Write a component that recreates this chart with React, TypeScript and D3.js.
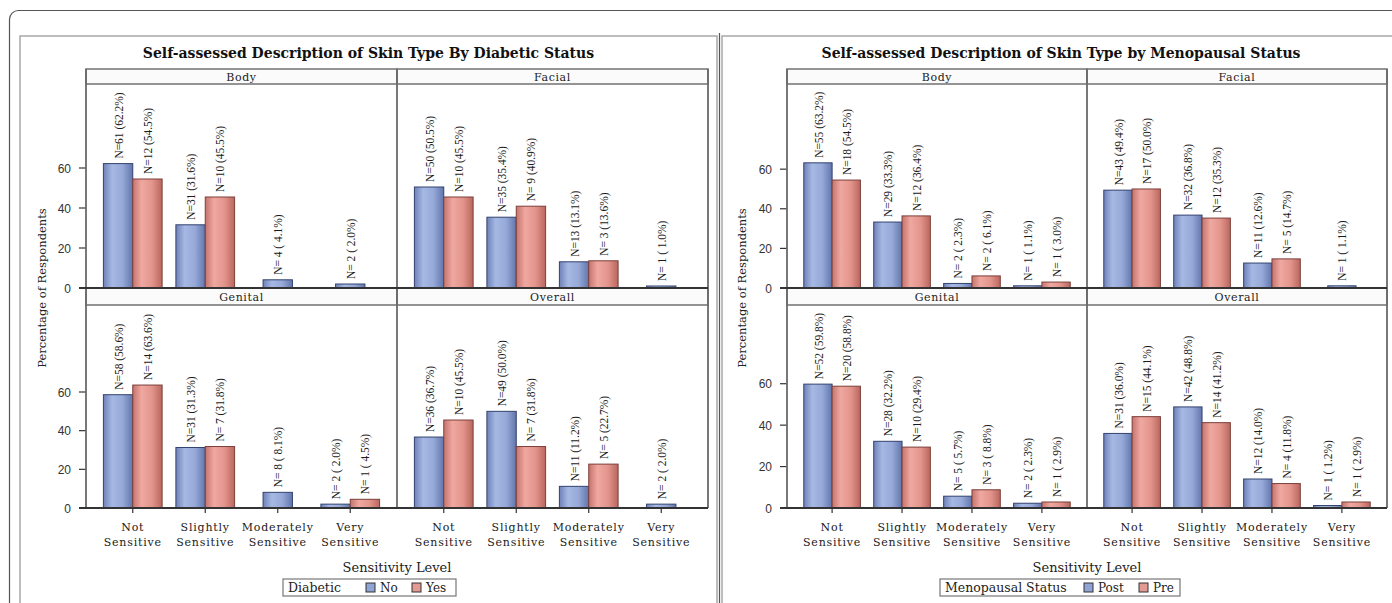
import React from 'react';
import * as d3 from 'd3';

// ---------- DATA ----------
const categories = ['Not Sensitive', 'Slightly Sensitive', 'Moderately Sensitive', 'Very Sensitive'];
const panelNames = ['Body', 'Facial', 'Genital', 'Overall'];
const yTicks = [0, 20, 40, 60];

// Diabetic status chart
const diabeticGroups = ['No', 'Yes'];
const diabBodyNoN = [61, 31, 4, 2];
const diabBodyNoPct = [62.2, 31.6, 4.1, 2.0];
const diabBodyYesN = [12, 10, null, null];
const diabBodyYesPct = [54.5, 45.5, null, null];
const diabFacialNoN = [50, 35, 13, 1];
const diabFacialNoPct = [50.5, 35.4, 13.1, 1.0];
const diabFacialYesN = [10, 9, 3, null];
const diabFacialYesPct = [45.5, 40.9, 13.6, null];
const diabGenitalNoN = [58, 31, 8, 2];
const diabGenitalNoPct = [58.6, 31.3, 8.1, 2.0];
const diabGenitalYesN = [14, 7, null, 1];
const diabGenitalYesPct = [63.6, 31.8, null, 4.5];
const diabOverallNoN = [36, 49, 11, 2];
const diabOverallNoPct = [36.7, 50.0, 11.2, 2.0];
const diabOverallYesN = [10, 7, 5, null];
const diabOverallYesPct = [45.5, 31.8, 22.7, null];

// Menopausal status chart
const menoGroups = ['Post', 'Pre'];
const menoBodyPostN = [55, 29, 2, 1];
const menoBodyPostPct = [63.2, 33.3, 2.3, 1.1];
const menoBodyPreN = [18, 12, 2, 1];
const menoBodyPrePct = [54.5, 36.4, 6.1, 3.0];
const menoFacialPostN = [43, 32, 11, 1];
const menoFacialPostPct = [49.4, 36.8, 12.6, 1.1];
const menoFacialPreN = [17, 12, 5, null];
const menoFacialPrePct = [50.0, 35.3, 14.7, null];
const menoGenitalPostN = [52, 28, 5, 2];
const menoGenitalPostPct = [59.8, 32.2, 5.7, 2.3];
const menoGenitalPreN = [20, 10, 3, 1];
const menoGenitalPrePct = [58.8, 29.4, 8.8, 2.9];
const menoOverallPostN = [31, 42, 12, 1];
const menoOverallPostPct = [36.0, 48.8, 14.0, 1.2];
const menoOverallPreN = [15, 14, 4, 1];
const menoOverallPrePct = [44.1, 41.2, 11.8, 2.9];

type Series = { n: (number | null)[]; pct: (number | null)[] };

const diabPanels: Series[][] = [
  [{ n: diabBodyNoN, pct: diabBodyNoPct }, { n: diabBodyYesN, pct: diabBodyYesPct }],
  [{ n: diabFacialNoN, pct: diabFacialNoPct }, { n: diabFacialYesN, pct: diabFacialYesPct }],
  [{ n: diabGenitalNoN, pct: diabGenitalNoPct }, { n: diabGenitalYesN, pct: diabGenitalYesPct }],
  [{ n: diabOverallNoN, pct: diabOverallNoPct }, { n: diabOverallYesN, pct: diabOverallYesPct }],
];
const menoPanels: Series[][] = [
  [{ n: menoBodyPostN, pct: menoBodyPostPct }, { n: menoBodyPreN, pct: menoBodyPrePct }],
  [{ n: menoFacialPostN, pct: menoFacialPostPct }, { n: menoFacialPreN, pct: menoFacialPrePct }],
  [{ n: menoGenitalPostN, pct: menoGenitalPostPct }, { n: menoGenitalPreN, pct: menoGenitalPrePct }],
  [{ n: menoOverallPostN, pct: menoOverallPostPct }, { n: menoOverallPreN, pct: menoOverallPrePct }],
];

// ---------- STYLE ----------
const SERIF = '"DejaVu Serif", serif';
const TSERIF = '"Liberation Serif", serif';
const SANS = '"Liberation Sans", Arial, sans-serif';
const barStroke = ['#33426e', '#7c3f3a'];
const legendFill = ['#8fa3d4', '#e39a92'];

const fmt = (n: number, p: number) =>
  `N=${String(n).padStart(2, ' ')} (${p.toFixed(1).padStart(4, ' ')}%)`;

type ChartProps = {
  id: string;
  title: string;
  boxLeft: number;
  boxRight: number;
  panelLeft: number;
  panelW: number;
  yMax: [number, number];
  yLabelX: number;
  groups: string[];
  data: Series[][];
  legendTitle: string;
  legendBox: [number, number];
  legendItems: number[];
};

const rowsY = [
  { hTop: 69, hBot: 84, zero: 288 },
  { hTop: 288, hBot: 305, zero: 508 },
];

function Chart(props: ChartProps) {
  const { id, title, boxLeft, boxRight, panelLeft, panelW, yMax, yLabelX, groups, data } = props;
  const cx = (boxLeft + boxRight) / 2;
  const els: React.ReactNode[] = [];

  data.forEach((series, p) => {
    const col = p % 2;
    const row = Math.floor(p / 2);
    const r = rowsY[row];
    const x0 = panelLeft + col * panelW;
    const x = d3.scaleBand<string>().domain(categories).range([x0, x0 + panelW]).paddingInner(0.19).paddingOuter(0.24);
    const y = d3.scaleLinear().domain([0, yMax[row]]).range([r.zero, r.hBot]);
    const bw = x.bandwidth() / 2;

    els.push(
      <g key={`h${p}`}>
        <rect x={x0} y={r.hTop} width={panelW} height={r.hBot - r.hTop} fill="#fbfbfb" stroke="#7a7a7a" strokeWidth={1.6} />
        <text x={x0 + panelW / 2} y={r.hTop + (r.hBot - r.hTop) / 2 + 4} textAnchor="middle" fontFamily={SERIF} fontSize={11} letterSpacing={0.6} fill="#222">
          {panelNames[p]}
        </text>
      </g>
    );

    categories.forEach((c, i) => {
      const present = groups.map((_, g) => g).filter((g) => series[g].pct[i] != null);
      present.forEach((g, k) => {
        const v = series[g].pct[i] as number;
        const n = series[g].n[i] as number;
        const bx = present.length === 1 ? (x(c) as number) + x.bandwidth() / 2 - bw / 2 : (x(c) as number) + k * bw;
        const top = y(v);
        els.push(
          <g key={`b${p}-${i}-${g}`}>
            <rect x={bx} y={top} width={bw} height={r.zero - top} fill={`url(#${id}g${g})`} stroke={barStroke[g]} strokeWidth={1} />
            <text
              transform={`translate(${bx + bw / 2},${top - 5}) rotate(-90) scale(0.88,1)`}
              dy="0.35em"
              fontFamily={TSERIF}
              fontSize={13}
              fill="#1a1a1a"
              style={{ whiteSpace: 'pre' }}
            >
              {fmt(n, v)}
            </text>
          </g>
        );
      });
    });

    if (col === 0) {
      yTicks.forEach((t) => {
        els.push(
          <g key={`yt${p}-${t}`}>
            <line x1={x0 - 7} x2={x0} y1={y(t)} y2={y(t)} stroke="#333" strokeWidth={1.2} />
            <text x={x0 - 15} y={y(t) + 4.5} textAnchor="end" fontFamily={SANS} fontSize={12} fill="#333">
              {t}
            </text>
          </g>
        );
      });
    }
    if (row === 1) {
      categories.forEach((c) => {
        const mx = (x(c) as number) + x.bandwidth() / 2;
        const [a, b] = c.split(' ');
        els.push(
          <g key={`xt${p}-${c}`}>
            <line x1={mx} x2={mx} y1={r.zero} y2={r.zero + 5} stroke="#333" strokeWidth={1.2} />
            <text x={mx} y={531} textAnchor="middle" fontFamily={SERIF} fontSize={11} letterSpacing={0.8} fill="#1a1a1a">
              {a}
            </text>
            <text x={mx} y={546} textAnchor="middle" fontFamily={SERIF} fontSize={11} letterSpacing={0.8} fill="#1a1a1a">
              {b}
            </text>
          </g>
        );
      });
    }
  });

  const x1 = panelLeft + 2 * panelW;
  const frame = (
    <g key="frame" fill="none">
      <line x1={panelLeft} x2={panelLeft} y1={69} y2={508} stroke="#6a6a6a" strokeWidth={1.8} />
      <line x1={panelLeft + panelW} x2={panelLeft + panelW} y1={69} y2={508} stroke="#6a6a6a" strokeWidth={1.8} />
      <line x1={x1} x2={x1} y1={69} y2={508} stroke="#6a6a6a" strokeWidth={1.8} />
      <line x1={panelLeft - 7} x2={x1} y1={288} y2={288} stroke="#333" strokeWidth={1.8} />
      <line x1={panelLeft - 7} x2={x1} y1={508} y2={508} stroke="#333" strokeWidth={1.8} />
    </g>
  );

  const [lb0, lb1] = props.legendBox;
  return (
    <g>
      <defs>
        <linearGradient id={`${id}g0`} x1="0" x2="1" y1="0" y2="0">
          <stop offset="0" stopColor="#6f82b8" />
          <stop offset="0.3" stopColor="#a6b8e3" />
          <stop offset="0.65" stopColor="#96a9d8" />
          <stop offset="1" stopColor="#6276ad" />
        </linearGradient>
        <linearGradient id={`${id}g1`} x1="0" x2="1" y1="0" y2="0">
          <stop offset="0" stopColor="#c4746d" />
          <stop offset="0.3" stopColor="#efa8a0" />
          <stop offset="0.65" stopColor="#e3958c" />
          <stop offset="1" stopColor="#b9675f" />
        </linearGradient>
      </defs>
      <rect x={boxLeft} y={36} width={boxRight - boxLeft} height={620} fill="#fff" stroke="#a8a8a8" strokeWidth={1.5} />
      <text x={cx} y={58} textAnchor="middle" fontFamily={SERIF} fontWeight="bold" fontSize={14} fill="#111">
        {title}
      </text>
      {els}
      {frame}
      <text transform={`translate(${yLabelX},288) rotate(-90)`} dy="0.35em" textAnchor="middle" fontFamily={SERIF} fontSize={11.5} fill="#222">
        Percentage of Respondents
      </text>
      <text x={panelLeft + panelW} y={572} textAnchor="middle" fontFamily={SERIF} fontSize={13} fill="#222">
        Sensitivity Level
      </text>
      <rect x={lb0} y={579} width={lb1 - lb0} height={17} fill="#fff" stroke="#777" strokeWidth={1.2} />
      <text x={lb0 + 5} y={592} fontFamily={SERIF} fontSize={12.5} fill="#222">
        {props.legendTitle}
      </text>
      {groups.map((g, k) => (
        <g key={g}>
          <rect x={props.legendItems[k]} y={583} width={9} height={9} fill={legendFill[k]} stroke="#333" strokeWidth={1} />
          <text x={props.legendItems[k] + 14} y={592} fontFamily={SERIF} fontSize={12} fill="#222">
            {g}
          </text>
        </g>
      ))}
    </g>
  );
}

export default function App() {
  return (
    <svg width={1392} height={603} style={{ position: 'absolute', left: 0, top: 0, background: '#fff' }}>
      <rect x={9.5} y={10.5} width={1500} height={700} rx={9} fill="#fff" stroke="#555" strokeWidth={1.2} />
      <Chart
        id="d"
        title="Self-assessed Description of Skin Type By Diabetic Status"
        boxLeft={20}
        boxRight={717}
        panelLeft={86}
        panelW={311}
        yMax={[102, 105]}
        yLabelX={42}
        groups={diabeticGroups}
        data={diabPanels}
        legendTitle="Diabetic"
        legendBox={[283, 456]}
        legendItems={[366, 412]}
      />
      <line x1={719.5} x2={719.5} y1={33} y2={603} stroke="#555" strokeWidth={1.2} />
      <Chart
        id="m"
        title="Self-assessed Description of Skin Type by Menopausal Status"
        boxLeft={722}
        boxRight={1400}
        panelLeft={787}
        panelW={300}
        yMax={[103, 98]}
        yLabelX={742}
        groups={menoGroups}
        data={menoPanels}
        legendTitle="Menopausal Status"
        legendBox={[940, 1180]}
        legendItems={[1084, 1139]}
      />
    </svg>
  );
}
